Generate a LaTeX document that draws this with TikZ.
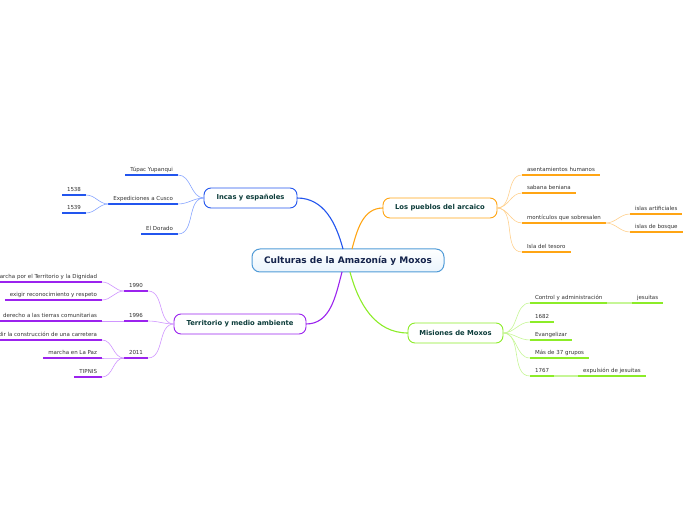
\documentclass[tikz,border=0pt]{standalone}
\usepackage{fontspec}
\setmainfont{DejaVu Sans}
\definecolor{incasblue}{RGB}{34,85,238}
\definecolor{incaslight}{RGB}{135,165,255}
\definecolor{arcorange}{RGB}{255,165,20}
\definecolor{arclight}{RGB}{255,208,140}
\definecolor{moxgreen}{RGB}{140,236,40}
\definecolor{moxlight}{RGB}{198,246,150}
\definecolor{terrpurple}{RGB}{155,35,238}
\definecolor{terrlight}{RGB}{208,150,255}
\definecolor{centralblue}{RGB}{80,155,215}
\definecolor{centralfill}{RGB}{234,244,252}
\definecolor{centraltext}{RGB}{20,35,75}
\definecolor{branchtext}{RGB}{12,60,58}
\definecolor{leaftext}{RGB}{50,50,50}

\begin{document}
\begin{tikzpicture}[x=1pt, y=1pt,
  leaf/.style={font=\fontsize{5.5}{6.5}\selectfont, text=leaftext, inner xsep=5pt, inner ysep=2.3pt, outer sep=0pt, minimum width=24pt, text height=4.2pt, text depth=1.2pt, append after command={(\tikzlastnode.south west) edge[draw=#1, line width=1.5pt] (\tikzlastnode.south east)}},
  branch/.style={draw=#1, line width=0.9pt, rounded corners=7pt, fill=white, font=\fontsize{6.8}{8}\selectfont\bfseries, text=branchtext, minimum height=20pt, inner xsep=11pt, outer sep=0pt},
  link/.style={draw=#1, line width=0.6pt},
  mainlink/.style={draw=#1, line width=1.1pt}]
\useasboundingbox (0,0) rectangle (696,520);
\clip (0,0) rectangle (696,520);
% central topic
\node[draw=centralblue, line width=1pt, rounded corners=8pt, top color=white, bottom color=centralfill, minimum width=192pt, minimum height=23pt, font=\fontsize{9}{11}\selectfont\bfseries, text=centraltext, outer sep=0pt] (central) at (348,259.5) {Culturas de la Amazonía y Moxos};
% main branches
\node[branch=incasblue, minimum width=93pt] (incas) at (250.5,322) {Incas y españoles};
\node[branch=arcorange, minimum width=114pt] (pueblos) at (440,312) {Los pueblos del arcaico};
\node[branch=moxgreen, minimum width=95pt] (misiones) at (455.5,187) {Misiones de Moxos};
\node[branch=terrpurple, minimum width=132pt] (territorio) at (240,196) {Territorio y medio ambiente};
\draw[mainlink=incasblue] ([xshift=-5pt]central.north) to[out=105,in=0] (incas.east);
\draw[mainlink=arcorange] ([xshift=4pt]central.north) to[out=75,in=180] (pueblos.west);
\draw[mainlink=terrpurple] ([xshift=-6pt]central.south) to[out=255,in=0] (territorio.east);
\draw[mainlink=moxgreen] ([xshift=2pt]central.south) to[out=285,in=180] (misiones.west);
% Incas y espanoles
\node[leaf=incasblue, anchor=south east] (tupac) at (178,345) {Túpac Yupanqui};
\node[leaf=incasblue, anchor=south east] (cusco) at (178,316) {Expediciones a Cusco};
\node[leaf=incasblue, anchor=south east] (dorado) at (178,286) {El Dorado};
\node[leaf=incasblue, anchor=south east] (y1538) at (86,325) {1538};
\node[leaf=incasblue, anchor=south east] (y1539) at (86,307) {1539};
\foreach \n in {tupac,cusco,dorado}
  \draw[link=incaslight] (incas.west) to[out=180,in=0] (\n.south east);
\foreach \n in {y1538,y1539}
  \draw[link=incaslight] (cusco.south west) to[out=180,in=0] (\n.south east);
% Los pueblos del arcaico
\node[leaf=arcorange, anchor=south west] (asent) at (522,345) {asentamientos humanos};
\node[leaf=arcorange, anchor=south west] (sabana) at (522,327) {sabana beniana};
\node[leaf=arcorange, anchor=south west] (montic) at (522,297) {montículos que sobresalen};
\node[leaf=arcorange, anchor=south west] (tesoro) at (522,268) {Isla del tesoro};
\node[leaf=arcorange, anchor=south west] (artif) at (630,306) {islas artificiales};
\node[leaf=arcorange, anchor=south west] (bosque) at (630,288) {islas de bosque};
\foreach \n in {asent,sabana,montic,tesoro}
  \draw[link=arclight] (pueblos.east) to[out=0,in=180] (\n.south west);
\foreach \n in {artif,bosque}
  \draw[link=arclight] (montic.south east) to[out=0,in=180] (\n.south west);
% Misiones de Moxos
\node[leaf=moxgreen, anchor=south west] (control) at (530,217) {Control y administración};
\node[leaf=moxgreen, anchor=south west] (y1682) at (530,198) {1682};
\node[leaf=moxgreen, anchor=south west] (evang) at (530,180) {Evangelizar};
\node[leaf=moxgreen, anchor=south west] (grupos) at (530,162) {Más de 37 grupos};
\node[leaf=moxgreen, anchor=south west] (y1767) at (530,144) {1767};
\node[leaf=moxgreen, anchor=south west] (jesuitas) at (632,217) {jesuitas};
\node[leaf=moxgreen, anchor=south west] (expuls) at (578,144) {expulsión de jesuitas};
\foreach \n in {control,y1682,evang,grupos,y1767}
  \draw[link=moxlight] (misiones.east) to[out=0,in=180] (\n.south west);
\draw[moxlight, line width=1.5pt] (control.south east) -- (jesuitas.south west);
\draw[moxlight, line width=1.5pt] (y1767.south east) -- (expuls.south west);
% Territorio y medio ambiente
\node[leaf=terrpurple, anchor=south east] (y1990) at (148,229) {1990};
\node[leaf=terrpurple, anchor=south east] (y1996) at (148,199) {1996};
\node[leaf=terrpurple, anchor=south east] (y2011) at (148,162) {2011};
\node[leaf=terrpurple, anchor=south east] (dignidad) at (102,238) {marcha por el Territorio y la Dignidad};
\node[leaf=terrpurple, anchor=south east] (exigir) at (102,220) {exigir reconocimiento y respeto};
\node[leaf=terrpurple, anchor=south east] (derecho) at (102,199) {derecho a las tierras comunitarias};
\node[leaf=terrpurple, anchor=south east] (impedir) at (102,180) {impedir la construcción de una carretera};
\node[leaf=terrpurple, anchor=south east] (lapaz) at (102,162) {marcha en La Paz};
\node[leaf=terrpurple, anchor=south east] (tipnis) at (102,143) {TIPNIS};
\foreach \n in {y1990,y1996,y2011}
  \draw[link=terrlight] (territorio.west) to[out=180,in=0] (\n.south east);
\foreach \n in {dignidad,exigir}
  \draw[link=terrlight] (y1990.south west) to[out=180,in=0] (\n.south east);
\draw[link=terrlight] (y1996.south west) -- (derecho.south east);
\foreach \n in {impedir,lapaz,tipnis}
  \draw[link=terrlight] (y2011.south west) to[out=180,in=0] (\n.south east);
\end{tikzpicture}
\end{document}
